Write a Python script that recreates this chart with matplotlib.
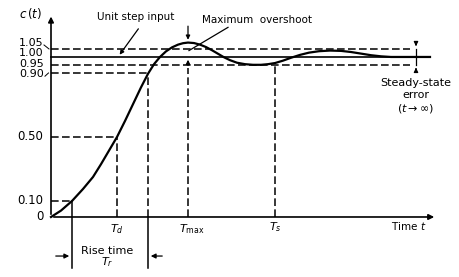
import matplotlib.pyplot as plt

# step response (time in arbitrary units)
t_curve = [0, 1.0, 2.1, 3.2, 4.2, 5.0, 5.8, 6.6, 7.4, 8.2, 9.0, 9.7, 10.3, 10.9,
           11.5, 12.1, 12.7, 13.2, 13.7, 14.3, 14.9, 15.5, 16.1, 16.7, 17.3,
           17.9, 18.6, 19.4, 20.2, 21.0, 21.7, 22.4, 23.2, 24.0, 24.9, 25.8,
           26.8, 27.9, 29.0, 30.0, 31.0, 32.0, 33.0, 34.0, 35.9, 37.9]
c_curve = [0, 0.04, 0.10, 0.175, 0.25, 0.33, 0.415, 0.50, 0.60, 0.705, 0.81, 0.895,
           0.955, 1.0, 1.035, 1.06, 1.077, 1.086, 1.09, 1.087, 1.077, 1.062,
           1.042, 1.02, 0.998, 0.98, 0.964, 0.955, 0.951, 0.951, 0.955, 0.962,
           0.977, 0.995, 1.013, 1.027, 1.036, 1.04, 1.038, 1.031, 1.021, 1.011,
           1.004, 1.0, 1.0, 1.0]

level_vals = [0, 0.10, 0.50, 0.90, 0.95, 1.00, 1.05]
level_labels = ["0", "0.10", "0.50", "0.90", "0.95", "1.00", "1.05"]
# where each label sits (labels near 1 are spread apart in the drawing)
label_y = [0, 0.10, 0.50, 0.895, 0.958, 1.022, 1.088]

t_r0 = 2.1    # 10 % point
t_d = 6.6     # delay time
t_r1 = 9.7    # 90 % point
t_max = 13.7
t_s = 22.4
t_band_end = 35.9
t_step_end = 37.9
t_axis_end = 38.6

dash = (0, (5, 2.2))
lw_d = 1.1

fig = plt.figure(figsize=(4.59, 2.77), dpi=100)
ax = fig.add_axes([0, 0, 1, 1])
ax.set_xlim(-5.1, 40.8)
ax.set_ylim(-0.375, 1.356)
ax.axis("off")

# axes with arrows
ax.annotate("", xy=(0, 1.27), xytext=(0, 0),
            arrowprops=dict(arrowstyle="-|>", lw=1.2, color="k", mutation_scale=8))
ax.annotate("", xy=(t_axis_end, 0), xytext=(0, 0),
            arrowprops=dict(arrowstyle="-|>", lw=1.2, color="k", mutation_scale=8))

# response and unit step
ax.plot(t_curve, c_curve, color="k", lw=1.6, solid_joinstyle="round")
ax.plot([0, t_step_end], [1.0, 1.0], color="k", lw=1.2)

# dashed reference levels
ax.plot([0, t_r0], [0.10, 0.10], "k", ls=dash, lw=lw_d)
ax.plot([0, t_d], [0.50, 0.50], "k", ls=dash, lw=lw_d)
ax.plot([0, t_r1], [0.90, 0.90], "k", ls=dash, lw=lw_d)
ax.plot([0, t_band_end], [0.95, 0.95], "k", ls=dash, lw=lw_d)
ax.plot([0, t_band_end], [1.05, 1.05], "k", ls=dash, lw=lw_d)

# dashed verticals
ax.plot([t_d, t_d], [0, 0.50], "k", ls=dash, lw=lw_d)
ax.plot([t_r1, t_r1], [0, 0.90], "k", ls=dash, lw=lw_d)
ax.plot([t_max, t_max], [0, 0.93], "k", ls=dash, lw=lw_d)
ax.plot([t_s, t_s], [0, 0.96], "k", ls=dash, lw=lw_d)

# rise time markers
ax.plot([t_r0, t_r0], [-0.32, 0.10], color="k", lw=1.1)
ax.plot([t_r1, t_r1], [-0.32, 0], color="k", lw=1.1)
ax.annotate("", xy=(t_r0, -0.244), xytext=(0.2, -0.244),
            arrowprops=dict(arrowstyle="-|>", lw=0.9, color="k", mutation_scale=7))
ax.annotate("", xy=(t_r1, -0.244), xytext=(11.4, -0.244),
            arrowprops=dict(arrowstyle="-|>", lw=0.9, color="k", mutation_scale=7))
ax.text(5.6, -0.21, "Rise time", ha="center", va="center", fontsize=8)
ax.text(5.6, -0.28, r"$T_r$", ha="center", va="center", fontsize=8)

# maximum overshoot arrows
ax.annotate("", xy=(t_max, 1.09), xytext=(t_max, 1.21),
            arrowprops=dict(arrowstyle="-|>", lw=0.9, color="k", mutation_scale=6))
ax.annotate("", xy=(t_max, 1.0), xytext=(t_max, 0.93),
            arrowprops=dict(arrowstyle="-|>", lw=0.9, color="k", mutation_scale=6))
ax.plot([17.7, 13.8], [1.185, 1.04], color="k", lw=0.9)
ax.text(20.6, 1.23, "Maximum  overshoot", ha="center", va="center", fontsize=7.5)

# unit step label
ax.annotate("", xy=(6.7, 1.0), xytext=(8.9, 1.19),
            arrowprops=dict(arrowstyle="-|>", lw=0.9, color="k", mutation_scale=6))
ax.text(8.5, 1.25, "Unit step input", ha="center", va="center", fontsize=7.5)

# steady-state error band
t_sse = 36.5
ax.plot([t_sse, t_sse], [0.95, 1.05], color="k", lw=0.9)
ax.annotate("", xy=(t_sse, 1.05), xytext=(t_sse, 1.10),
            arrowprops=dict(arrowstyle="-|>", lw=0.9, color="k", mutation_scale=6))
ax.annotate("", xy=(t_sse, 0.95), xytext=(t_sse, 0.905),
            arrowprops=dict(arrowstyle="-|>", lw=0.9, color="k", mutation_scale=6))
ax.text(t_sse, 0.84, "Steady-state", ha="center", va="center", fontsize=8)
ax.text(t_sse, 0.76, "error", ha="center", va="center", fontsize=8)
ax.text(t_sse, 0.68, r"($t\rightarrow\infty$)", ha="center", va="center", fontsize=8)

# y labels
for val, lab, ly in zip(level_vals, level_labels, label_y):
    fs = 8 if val >= 0.9 else 8.5
    ax.text(-0.75, ly, lab, ha="right", va="center", fontsize=fs)
ax.plot([-0.7, -0.2], [1.075, 1.05], color="k", lw=0.7)
ax.plot([-0.6, -0.25], [0.88, 0.90], color="k", lw=0.7)
ax.text(-2.0, 1.27, r"$c\,(t)$", ha="center", va="center", fontsize=8.5)

# time labels
ax.text(t_d, -0.075, r"$T_d$", ha="center", va="center", fontsize=8)
ax.text(t_max + 0.4, -0.075, r"$T_{\mathrm{max}}$", ha="center", va="center", fontsize=8)
ax.text(t_s, -0.065, r"$T_s$", ha="center", va="center", fontsize=8)
ax.text(35.8, -0.056, r"Time $t$", ha="center", va="center", fontsize=7.5)

fig.savefig("out.png", dpi=100)
